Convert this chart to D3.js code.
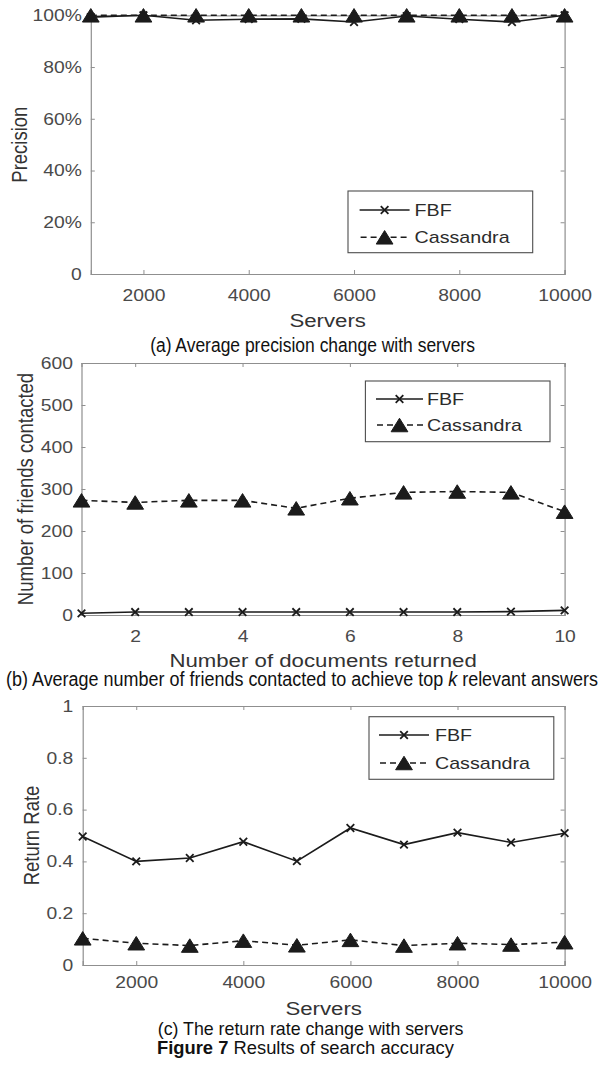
<!DOCTYPE html>
<html>
<head>
<meta charset="utf-8">
<script src="https://cdn.jsdelivr.net/npm/d3@7"></script>
<style>
  html, body { margin: 0; padding: 0; background: #fff; }
  svg { display: block; }
</style>
</head>
<body>
<svg id="fig" width="603" height="1065"></svg>
<script>
// ---- data ----
const servers = [1000, 2000, 3000, 4000, 5000, 6000, 7000, 8000, 9000, 10000];
const precisionFBF = [0.993, 1.0, 0.981, 0.985, 0.986, 0.974, 0.997, 0.985, 0.974, 1.0];
const precisionCassandra = [1, 1, 1, 1, 1, 1, 1, 1, 1, 1];

const docsReturned = [1, 2, 3, 4, 5, 6, 7, 8, 9, 10];
const friendsFBF = [4, 7, 7, 7, 7, 7, 7, 7, 8, 11];
const friendsCassandra = [273, 268, 273, 273, 254, 278, 292, 294, 292, 246];

const returnFBF = [0.496, 0.400, 0.413, 0.476, 0.401, 0.529, 0.465, 0.511, 0.473, 0.509];
const returnCassandra = [0.103, 0.084, 0.075, 0.094, 0.076, 0.097, 0.075, 0.084, 0.079, 0.088];

const serverTicks = [2000, 4000, 6000, 8000, 10000];
const docTicks = [2, 4, 6, 8, 10];
const precisionTicks = [0, 0.2, 0.4, 0.6, 0.8, 1];
const precisionTickLabels = ["0", "20%", "40%", "60%", "80%", "100%"];
const friendTicks = [0, 100, 200, 300, 400, 500, 600];
const rateTicks = [0, 0.2, 0.4, 0.6, 0.8, 1];
const rateTickLabels = ["0", "0.2", "0.4", "0.6", "0.8", "1"];
const seriesNames = ["FBF", "Cassandra"];

// ---- styling ----
const SX = 1.17;                     // horizontal stretch applied to text
const FONT = "'Liberation Sans', Arial, Helvetica, sans-serif";
const CAPFONT = "'Liberation Sans Narrow', 'Arial Narrow', 'Liberation Sans', sans-serif";
const AXIS_COLOR = "#8f8f8f";
const TEXT_COLOR = "#4a4a4a";
const INK = "#1b1b1b";

const svg = d3.select("#fig");

function label(g, x, y, str, o = {}) {
  const t = g.append("text")
    .attr("transform", `translate(${x},${y}) scale(${SX},1)` + (o.rotate ? ` rotate(${o.rotate})` : ""))
    .attr("text-anchor", o.anchor || "middle")
    .attr("font-family", o.family || FONT)
    .attr("font-size", o.size || 16)
    .attr("font-weight", o.weight || "normal")
    .attr("fill", o.fill || TEXT_COLOR)
    .text(str);
  return t;
}

function triangle(g, cx, cy, s) {
  const w = s * 0.62, h = s * 0.5;
  g.append("path")
    .attr("d", `M${cx},${cy - h}L${cx + w},${cy + h}L${cx - w},${cy + h}Z`)
    .attr("fill", INK).attr("stroke", INK).attr("stroke-width", 1);
}
function cross(g, cx, cy, s) {
  g.append("path")
    .attr("d", `M${cx - s},${cy - s}L${cx + s},${cy + s}M${cx - s},${cy + s}L${cx + s},${cy - s}`)
    .attr("stroke", INK).attr("stroke-width", 1.8).attr("fill", "none");
}

function panel(cfg) {
  const g = svg.append("g");
  const x = d3.scaleLinear().domain(cfg.xDomain).range([cfg.left, cfg.right]);
  const y = d3.scaleLinear().domain(cfg.yDomain).range([cfg.bottom, cfg.top]);

  // box with inward ticks on all four sides
  const bottom = d3.axisBottom(x).tickValues(cfg.xTicks).tickSize(-4).tickPadding(cfg.xPad)
    .tickFormat(cfg.xFormat);
  const top = d3.axisTop(x).tickValues(cfg.xTicks).tickSize(-4).tickFormat("");
  const left = d3.axisLeft(y).tickValues(cfg.yTicks).tickSize(-4).tickPadding(0)
    .tickFormat((d, i) => cfg.yLabels[i]);
  const right = d3.axisRight(y).tickValues(cfg.yTicks).tickSize(-4).tickFormat("");

  const styleAxis = sel => {
    sel.selectAll("path.domain").attr("stroke", AXIS_COLOR).attr("stroke-width", 1.2);
    sel.selectAll(".tick line").attr("stroke", AXIS_COLOR).attr("stroke-width", 1);
    sel.selectAll(".tick text").attr("fill", TEXT_COLOR).attr("font-family", FONT)
      .attr("font-size", 16.5);
  };
  const gb = g.append("g").attr("transform", `translate(0,${cfg.bottom})`).call(bottom).call(styleAxis);
  gb.selectAll(".tick text").attr("transform", `scale(${SX},1)`);
  g.append("g").attr("transform", `translate(0,${cfg.top})`).call(top).call(styleAxis);
  const gl = g.append("g").attr("transform", `translate(${cfg.left},0)`).call(left).call(styleAxis);
  gl.selectAll(".tick text").attr("x", -cfg.yGap / SX).attr("transform", `scale(${SX},1)`);
  g.append("g").attr("transform", `translate(${cfg.right},0)`).call(right).call(styleAxis);

  // series
  const line = d3.line().x((d, i) => x(cfg.xs[i])).y(d => y(d));
  g.append("path").datum(cfg.fbf).attr("d", line)
    .attr("fill", "none").attr("stroke", INK).attr("stroke-width", 1.6);
  g.append("path").datum(cfg.cas).attr("d", line)
    .attr("fill", "none").attr("stroke", INK).attr("stroke-width", 1.6)
    .attr("stroke-dasharray", "6,4");
  cfg.cas.forEach((v, i) => triangle(g, x(cfg.xs[i]), y(v), 13.5));
  cfg.fbf.forEach((v, i) => cross(g, x(cfg.xs[i]), y(v), 3.8));

  // legend
  const L = cfg.legend;
  g.append("rect").attr("x", L.x0).attr("y", L.y0).attr("width", L.x1 - L.x0).attr("height", L.y1 - L.y0)
    .attr("fill", "#fff").attr("stroke", "#4d4d4d").attr("stroke-width", 1.1);
  const mid = (L.s0 + L.s1) / 2;
  g.append("line").attr("x1", L.s0).attr("x2", L.s1).attr("y1", L.r1).attr("y2", L.r1)
    .attr("stroke", INK).attr("stroke-width", 1.6);
  cross(g, mid, L.r1, 3.8);
  g.append("line").attr("x1", L.s0).attr("x2", L.s1).attr("y1", L.r2).attr("y2", L.r2)
    .attr("stroke", INK).attr("stroke-width", 1.6).attr("stroke-dasharray", "6,4")
    .attr("stroke-dashoffset", -1);
  triangle(g, mid, L.r2, 13.5);
  label(g, L.tx, L.r1 + 6, seriesNames[0], { anchor: "start", size: 16.8, fill: "#2b2b2b" });
  label(g, L.tx, L.r2 + 6, seriesNames[1], { anchor: "start", size: 16.8, fill: "#2b2b2b" });

  // axis titles
  label(g, (cfg.left + cfg.right) / 2, cfg.xTitleY, cfg.xTitle, { size: 19, fill: "#333" });
  label(g, cfg.yTitleX, (cfg.top + cfg.bottom) / 2, cfg.yTitle, { size: 18.5, fill: "#333", rotate: -90 });
}

panel({
  left: 90.8, right: 564.6, top: 15.3, bottom: 274,
  xDomain: [1000, 10000], yDomain: [0, 1],
  xTicks: serverTicks, xFormat: d3.format("d"), xPad: 15,
  yTicks: precisionTicks, yLabels: precisionTickLabels, yGap: 9,
  xs: servers, fbf: precisionFBF, cas: precisionCassandra,
  legend: { x0: 348, x1: 532.7, y0: 191, y1: 252.7, s0: 359.6, s1: 409.6, tx: 414.6, r1: 210, r2: 237.3 },
  xTitle: "Servers", xTitleY: 326.5, yTitle: "Precision", yTitleX: 27
});

panel({
  left: 81.5, right: 564.6, top: 363, bottom: 615,
  xDomain: [1, 10], yDomain: [0, 600],
  xTicks: docTicks, xFormat: d3.format("d"), xPad: 15,
  yTicks: friendTicks, yLabels: friendTicks.map(String), yGap: 8.5,
  xs: docsReturned, fbf: friendsFBF, cas: friendsCassandra,
  legend: { x0: 365.4, x1: 550, y0: 381, y1: 441.7, s0: 376, s1: 423, tx: 427, r1: 399, r2: 425 },
  xTitle: "Number of documents returned", xTitleY: 666.5,
  yTitle: "Number of  friends contacted", yTitleX: 32.5
});

panel({
  left: 82.7, right: 564.6, top: 706, bottom: 965,
  xDomain: [1000, 10000], yDomain: [0, 1],
  xTicks: serverTicks, xFormat: d3.format("d"), xPad: 11,
  yTicks: rateTicks, yLabels: rateTickLabels, yGap: 9.5,
  xs: servers, fbf: returnFBF, cas: returnCassandra,
  legend: { x0: 369, x1: 553.8, y0: 716.7, y1: 779.3, s0: 379, s1: 429, tx: 435, r1: 735, r2: 763 },
  xTitle: "Servers", xTitleY: 1014.5, yTitle: "Return Rate", yTitleX: 38.5
});

// captions: condensed horizontally so each line fills its set width
function caption(cx, y, parts, len, size) {
  const t = svg.append("text")
    .attr("text-anchor", "middle")
    .attr("font-family", CAPFONT).attr("font-size", size).attr("fill", "#111");
  parts.forEach(p => {
    t.append("tspan").text(p.t)
      .attr("font-style", p.italic ? "italic" : null)
      .attr("font-weight", p.bold ? "bold" : null);
  });
  const natural = t.node().getComputedTextLength();
  t.attr("transform", `translate(${cx},${y}) scale(${len / natural},1)`);
}
caption(312.5, 351.5, [{ t: "(a) Average precision change with servers" }], 325, 19.5);
caption(302, 686, [
  { t: "(b) Average number of friends contacted to achieve top " },
  { t: "k", italic: true },
  { t: " relevant answers" }
], 592, 19.5);
caption(310.6, 1034.5, [{ t: "(c) The return rate change with servers" }], 306, 18);
caption(305.4, 1053.5, [{ t: "Figure 7", bold: true }, { t: " Results of search accuracy" }], 297, 18);
</script>
</body>
</html>
